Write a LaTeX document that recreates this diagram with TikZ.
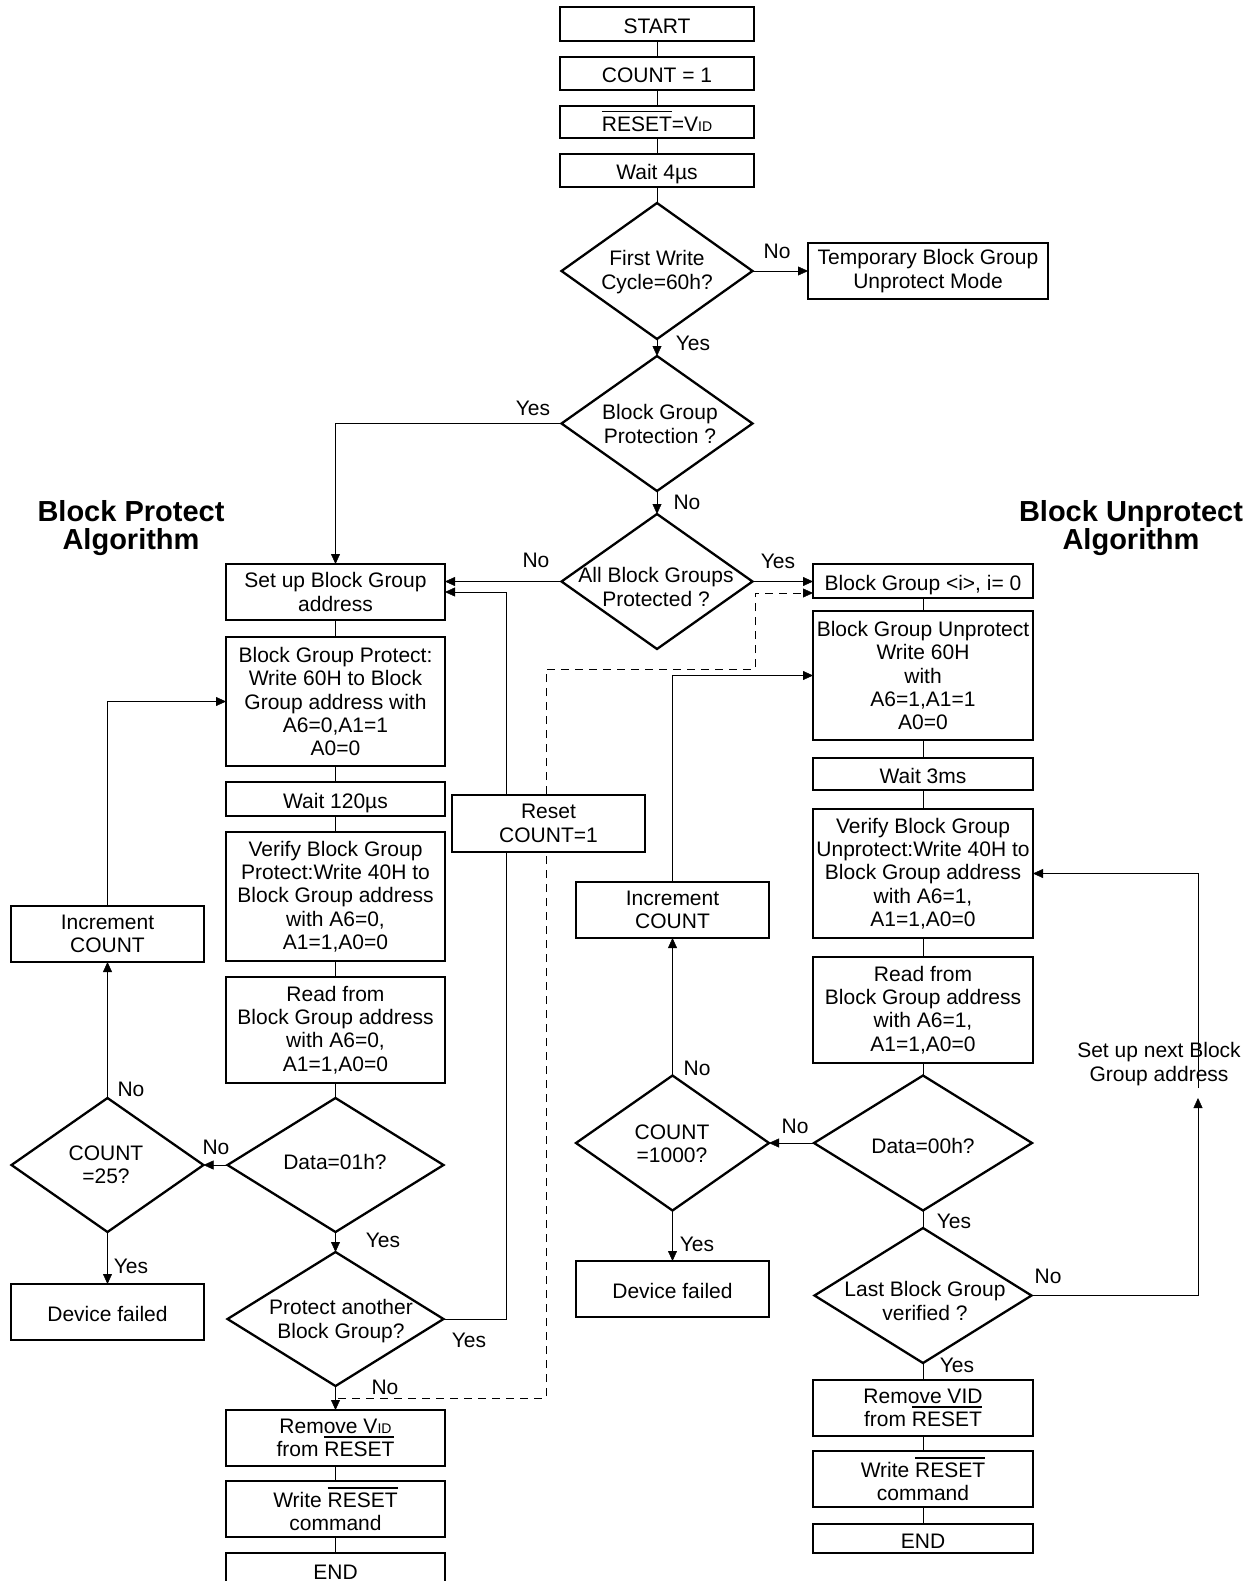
\documentclass[tikz,border=0pt]{standalone}
\usepackage{fontspec}
\setmainfont{Liberation Sans}
\usetikzlibrary{shapes.geometric,arrows.meta}
\pgfdeclarelayer{bg}
\pgfsetlayers{bg,main}
\newcommand{\ovl}[1]{\setbox0\hbox{#1}\rlap{\raisebox{19pt}{\rule{\wd0}{1.8pt}}}\box0}
\newcommand{\sid}{{\fontsize{14}{14}\selectfont ID}}
\begin{document}
\begin{tikzpicture}[x=1pt,y=-1pt,line width=2.3pt,
 every node/.style={inner sep=0pt,outer sep=0pt,font=\fontsize{21}{23.3}\selectfont},
 box/.style={draw,rectangle,align=center,fill=white},
 one/.style={text height=19pt,text depth=0pt},
 dia/.style={draw,diamond},
 txt/.style={align=center},
 ttl/.style={align=center,font=\fontsize{29}{28}\selectfont\bfseries},
 arr/.style={-{Triangle[length=10pt,width=9pt]}},
 dsh/.style={dash pattern=on 8pt off 6pt}]
\useasboundingbox (0,0) rectangle (1251,1581);

% titles
\node[ttl] (tl) at (131,528) {Block Protect\\Algorithm};
\node[ttl] (tr) at (1131,528) {Block Unprotect\\Algorithm};

% top column
\node[box,one,minimum width=194,minimum height=34] (start) at (657,24) {START};
\node[box,one,minimum width=194,minimum height=33] (cnt) at (657,73.5) {COUNT = 1};
\node[box,one,minimum width=194,minimum height=32] (rst) at (657,122) {\ovl{RESET}=V\sid};
\node[box,one,minimum width=194,minimum height=33] (w4) at (657,170.5) {Wait 4µs};
\node[dia,minimum width=191,minimum height=136] (fw) at (657,271) {};
\node[txt] (fwt) at (657,272) {First Write\\Cycle=60h?};
\node[box,minimum width=240,minimum height=56] (tmp) at (928,271) {Temporary Block Group\\Unprotect Mode};
\node[dia,minimum width=191,minimum height=135] (bgpd) at (657,423.5) {};
\node[txt] (bgpdt) at (660,424) {Block Group\\Protection ?};
\node[dia,minimum width=191,minimum height=135] (abg) at (657,581.5) {};
\node[txt] (abgt) at (656,587) {All Block Groups\\Protected ?};

% left column
\node[box,minimum width=219,minimum height=56] (setup) at (335.5,592) {Set up Block Group\\address};
\node[box,minimum width=219,minimum height=129] (bgpb) at (335.5,701.5) {Block Group Protect:\\Write 60H to Block\\Group address with\\A6=0,A1=1\\A0=0};
\node[box,one,minimum width=219,minimum height=34] (w120) at (335.5,799) {Wait 120µs};
\node[box,minimum width=219,minimum height=129] (ver) at (335.5,896.5) {Verify Block Group\\Protect:Write 40H to\\Block Group address\\with A6=0,\\A1=1,A0=0};
\node[box,minimum width=219,minimum height=106] (rd) at (335.5,1030) {Read from\\Block Group address\\with A6=0,\\A1=1,A0=0};
\node[dia,minimum width=216,minimum height=134] (d01) at (335.5,1165) {};
\node[txt] (d01t) at (335,1162) {Data=01h?};
\node[dia,minimum width=216,minimum height=134] (pa) at (335.5,1319) {};
\node[txt] (pat) at (341,1321) {Protect another\\Block Group?};
\node[box,minimum width=219,minimum height=56] (rem) at (335.5,1438) {Remove V\sid\\from \ovl{RESET}};
\node[box,minimum width=219,minimum height=56] (wr) at (335.5,1509) {Write \ovl{RESET}\\command};
\node[box,one,minimum width=219,minimum height=34] (endl) at (335.5,1570) {END};

% far left column
\node[box,minimum width=193,minimum height=56] (incl) at (107.5,934) {Increment\\COUNT};
\node[dia,minimum width=192,minimum height=134] (c25) at (107.5,1165) {};
\node[txt] (c25t) at (106,1165) {COUNT\\=25?};
\node[box,one,minimum width=193,minimum height=56] (dfl) at (107.5,1312) {Device failed};

% reset box
\node[box,minimum width=193,minimum height=57] (rsc) at (548.5,823.5) {Reset\\COUNT=1};

% middle right column
\node[box,minimum width=193,minimum height=56] (incr) at (672.5,910) {Increment\\COUNT};
\node[dia,minimum width=193,minimum height=135] (c1k) at (672.5,1143) {};
\node[txt] (c1kt) at (672,1144) {COUNT\\=1000?};
\node[box,one,minimum width=193,minimum height=56] (dfr) at (672.5,1289) {Device failed};

% right column
\node[box,one,minimum width=220,minimum height=34] (bgi) at (923,581) {Block Group <i>, i= 0};
\node[box,minimum width=220,minimum height=129] (bgu) at (923,675.5) {Block Group Unprotect\\Write 60H\\with\\A6=1,A1=1\\A0=0};
\node[box,one,minimum width=220,minimum height=32] (w3) at (923,774) {Wait 3ms};
\node[box,minimum width=220,minimum height=129] (veru) at (923,873.5) {Verify Block Group\\Unprotect:Write 40H to\\Block Group address\\with A6=1,\\A1=1,A0=0};
\node[box,minimum width=220,minimum height=106] (rdu) at (923,1010) {Read from\\Block Group address\\with A6=1,\\A1=1,A0=0};
\node[dia,minimum width=218,minimum height=135] (d00) at (923,1143) {};
\node[txt] (d00t) at (923,1146) {Data=00h?};
\node[dia,minimum width=217,minimum height=135] (last) at (923,1295.5) {};
\node[txt] (lastt) at (925,1301) {Last Block Group\\verified ?};
\node[box,minimum width=220,minimum height=56] (remu) at (923,1408) {Remove VID\\from \ovl{RESET}};
\node[box,minimum width=220,minimum height=56] (wru) at (923,1479) {Write \ovl{RESET}\\command};
\node[box,one,minimum width=220,minimum height=29] (endu) at (923,1538.5) {END};
\node[txt] (nxt) at (1159,1064) {Set up next Block\\Group address};

% coordinates
\coordinate (ds) at (338,1398);
\coordinate (nb1) at (1198,1098);
\coordinate (nb2) at (1198,1088);

% dashed connector (behind boxes)
\begin{pgfonlayer}{bg}
\draw[dsh,arr] (ds) -| (546,669) -| (755,593) -- ([yshift=-12pt]bgi.west);
\end{pgfonlayer}

% top connectors
\draw (start) -- (cnt) -- (rst) -- (w4) -- (fw.north);
\draw[arr] (fw.east) -- (tmp.west);
\draw[arr] (fw.south) -- (bgpd.north);
\draw[arr] (bgpd.west) -| (setup.north);
\draw[arr] (bgpd.south) -- (abg.north);
\draw[arr] (abg.west) -- (abg.west -| setup.east);
\draw[arr] (abg.east) -- (abg.east -| bgi.west);

% left connectors
\draw (setup) -- (bgpb) -- (w120) -- (ver) -- (rd) -- (d01.north);
\draw[arr] (d01.south) -- (pa.north);
\draw[arr] (pa.south) -- (rem.north);
\draw (rem) -- (wr) -- (endl);
\draw[arr] (d01.west) -- (c25.east);
\draw[arr] (c25.north) -- (incl.south);
\draw[arr] (incl.north) |- (bgpb.west);
\draw[arr] (c25.south) -- (dfl.north);
\draw (pa.east) -| ([xshift=-42.5pt]rsc.south);
\draw[arr] ([xshift=-42.5pt]rsc.north) |- (setup.east);

% right connectors
\draw (bgi) -- (bgu) -- (w3) -- (veru) -- (rdu) -- (d00.north);
\draw (d00.south) -- (last.north);
\draw (last.south) -- (remu) -- (wru) -- (endu);
\draw[arr] (d00.west) -- (c1k.east);
\draw[arr] (c1k.north) -- (incr.south);
\draw[arr] (incr.north) |- (bgu.west);
\draw[arr] (c1k.south) -- (dfr.north);
\draw[arr] (last.east) -| (nb1);
\draw[arr] (nb2) |- (veru.east);

% branch labels
\node (l1) at (777,251) {No};
\node (l2) at (693,343) {Yes};
\node (l3) at (533,408) {Yes};
\node (l4) at (687,502) {No};
\node (l5) at (536,560) {No};
\node (l6) at (778,561) {Yes};
\node (l7) at (216,1147) {No};
\node (l8) at (131,1089) {No};
\node (l9) at (131,1266) {Yes};
\node (l10) at (383,1240) {Yes};
\node (l11) at (469,1340) {Yes};
\node (l12) at (385,1387) {No};
\node (l13) at (697,1068) {No};
\node (l14) at (697,1244) {Yes};
\node (l15) at (795,1126) {No};
\node (l16) at (954,1221) {Yes};
\node (l17) at (1048,1276) {No};
\node (l18) at (957,1365) {Yes};
\end{tikzpicture}
\end{document}
